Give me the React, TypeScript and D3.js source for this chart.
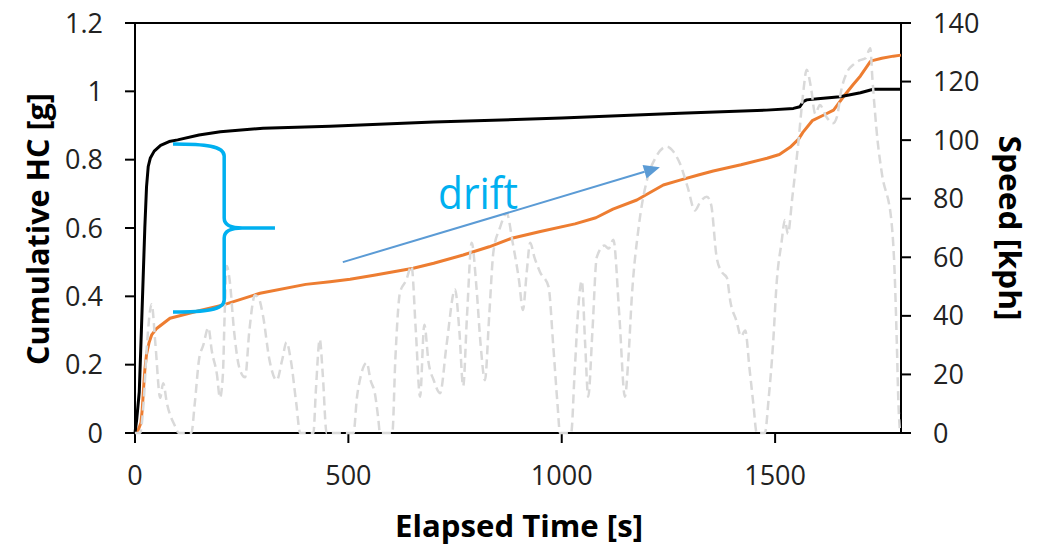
import React from "react";
import * as d3 from "d3";

// ---------- data ----------
const blackT = [0, 4, 10, 15, 19, 23, 27, 31, 36, 45, 60, 80, 100, 150, 200, 300, 457, 700, 1000, 1277, 1480, 1543, 1558, 1566, 1574, 1600, 1652, 1700, 1730, 1795];
const blackV = [0, 0.04, 0.12, 0.3, 0.45, 0.6, 0.72, 0.78, 0.805, 0.825, 0.842, 0.853, 0.858, 0.872, 0.882, 0.892, 0.898, 0.91, 0.922, 0.936, 0.945, 0.95, 0.955, 0.97, 0.975, 0.978, 0.984, 0.996, 1.006, 1.006];

const orangeT = [0, 8, 14, 17, 20, 23, 27, 33, 39, 50, 82, 150, 207, 293, 400, 457, 504, 560, 652, 700, 769, 830, 883, 950, 1031, 1080, 1120, 1176, 1238, 1277, 1320, 1355, 1420, 1481, 1510, 1535, 1555, 1565, 1587, 1613, 1637, 1660, 1683, 1700, 1723, 1728, 1750, 1777, 1795];
const orangeV = [0, 0.01, 0.03, 0.07, 0.13, 0.184, 0.23, 0.265, 0.287, 0.305, 0.336, 0.358, 0.375, 0.409, 0.435, 0.443, 0.45, 0.462, 0.482, 0.497, 0.521, 0.545, 0.57, 0.59, 0.612, 0.63, 0.655, 0.682, 0.726, 0.74, 0.755, 0.767, 0.785, 0.804, 0.815, 0.836, 0.86, 0.88, 0.914, 0.93, 0.945, 0.984, 1.02, 1.045, 1.087, 1.09, 1.097, 1.103, 1.106];

const speedT = [0, 12, 20, 28, 39, 48, 59, 66, 75, 95, 102, 132, 140, 150, 160, 172, 180, 192, 199, 206, 210, 215, 222, 232, 245, 258, 268, 281, 290, 300, 315, 332, 345, 355, 365, 378, 387, 418, 424, 433, 440, 449, 512, 520, 530, 543, 552, 562, 570, 574, 603, 610, 621, 635, 648, 658, 668, 678, 688, 700, 715, 730, 750, 760, 769, 778, 789, 800, 810, 820, 830, 840, 855, 871, 885, 900, 909, 918, 926, 936, 949, 969, 980, 990, 996, 1022, 1030, 1040, 1047, 1055, 1062, 1072, 1082, 1100, 1110, 1121, 1135, 1148, 1156, 1164, 1180, 1199, 1220, 1246, 1262, 1277, 1295, 1312, 1325, 1340, 1350, 1363, 1375, 1387, 1395, 1410, 1420, 1430, 1440, 1449, 1457, 1476, 1485, 1495, 1504, 1515, 1523, 1530, 1540, 1555, 1565, 1574, 1584, 1594, 1605, 1620, 1636, 1645, 1655, 1668, 1685, 1699, 1712, 1723, 1728, 1740, 1750, 1773, 1780, 1785, 1789, 1793];
const speedV = [0, 0, 10, 30, 44, 30, 12, 17, 10, 2, 0, 0, 10, 25, 30, 36, 28, 20, 12, 20, 40, 57, 52, 35, 22, 19, 35, 47, 46, 40, 25, 18, 25, 31, 25, 10, 0, 0, 15, 32, 20, 0, 0, 12, 20, 24, 18, 13.6, 5, 0, 0, 25, 48, 52, 57, 35, 12.4, 37, 24, 18, 13.6, 30, 49, 35, 16, 40, 65, 50, 30, 18, 40, 62, 70, 75, 65, 52, 42, 55, 65, 60, 55, 50, 30, 10, 0, 0, 20, 45, 52, 30, 12.4, 35, 60, 64, 63, 66, 40, 12.4, 25, 46, 70, 86, 94, 97.8, 96, 92, 84, 76, 79, 80.7, 78, 60, 55, 53, 45, 38, 33, 35, 22, 10, 0, 0, 12, 30, 52, 65, 72.7, 68, 80, 100, 115, 124, 118, 109, 112, 108, 105.8, 108, 117, 123, 126, 127.3, 128, 131.4, 121, 100, 88.8, 71.7, 55, 31.8, 10, 0];

const xTicks = [0, 500, 1000, 1500];
const yLeftTicks = [0, 0.2, 0.4, 0.6, 0.8, 1, 1.2];
const yRightTicks = [0, 20, 40, 60, 80, 100, 120, 140];

const xTitle = "Elapsed Time [s]";
const yLeftTitle = "Cumulative HC [g]";
const yRightTitle = "Speed [kph]";
const noteText = "drift";

// annotation anchors in data units [time, HC]
const arrowFrom = [487, 0.5];
const arrowTo = [1230, 0.778];
const braceEnds = [89, 0.846, 0.354]; // x-start, top, bottom
const braceSpine = 209;
const braceTip = [328, 0.6];
const noteAt = [710, 0.656];

const FONT = "'Open Sans', 'Liberation Sans', sans-serif";

export default function App() {
  const W = 1038, H = 546;
  const x = d3.scaleLinear().domain([0, 1795]).range([135, 901]);
  const yL = d3.scaleLinear().domain([0, 1.2]).range([433, 23]);
  const yR = d3.scaleLinear().domain([0, 140]).range([433, 23]);

  const lineL = d3.line<[number, number]>().x(d => x(d[0])).y(d => yL(d[1]));
  const lineR = d3.line<[number, number]>().x(d => x(d[0])).y(d => yR(d[1])).curve(d3.curveMonotoneX);

  const blackData = blackT.map((t, i) => [t, blackV[i]] as [number, number]);
  const orangeData = orangeT.map((t, i) => [t, orangeV[i]] as [number, number]);
  const speedData = speedT.map((t, i) => [t, speedV[i]] as [number, number]);

  const [x0, x1] = x.range();
  const [yb, yt] = yL.range();

  // arrow
  const ax1 = x(arrowFrom[0]), ay1 = yL(arrowFrom[1]);
  const ax2 = x(arrowTo[0]), ay2 = yL(arrowTo[1]);
  const ang = Math.atan2(ay2 - ay1, ax2 - ax1);
  const hl = 16, hw = 7;
  const bx = ax2 - hl * Math.cos(ang), by = ay2 - hl * Math.sin(ang);
  const px = -Math.sin(ang), py = Math.cos(ang);
  const head = `M${ax2},${ay2}L${bx + hw * px},${by + hw * py}L${bx - hw * px},${by - hw * py}Z`;

  // brace
  const bx0 = x(braceEnds[0]);
  const byT = yL(braceEnds[1]);
  const byB = yL(braceEnds[2]);
  const sx = x(braceSpine);
  const tx = x(braceTip[0]);
  const ty = yL(braceTip[1]);
  const brace =
    `M${bx0},${byT} C${bx0 + 32},${byT} ${sx},${byT + 2} ${sx},${byT + 12} ` +
    `L${sx},${ty - 10} C${sx},${ty - 2} ${sx + 8},${ty} ${sx + 18},${ty} L${tx},${ty} ` +
    `M${sx + 18},${ty} C${sx + 8},${ty} ${sx},${ty + 2} ${sx},${ty + 10} ` +
    `L${sx},${byB - 12} C${sx},${byB - 2} ${bx0 + 32},${byB} ${bx0},${byB}`;

  return (
    <svg width={W} height={H} style={{ position: "absolute", left: 0, top: 0, background: "#fff" }} fontFamily={FONT}>
      {/* axes */}
      <line x1={x0 - 10} x2={x1 + 10} y1={yt} y2={yt} stroke="#000" strokeWidth={2} />
      <line x1={x0 - 10} x2={x1 + 10} y1={yb} y2={yb} stroke="#000" strokeWidth={2} />
      <line x1={x0} x2={x0} y1={yt} y2={yb + 10} stroke="#000" strokeWidth={2} />
      <line x1={x1} x2={x1} y1={yt} y2={yb} stroke="#000" strokeWidth={2} />
      {yLeftTicks.map(v => (
        <g key={"l" + v}>
          <line x1={x0 - 10} x2={x0} y1={yL(v)} y2={yL(v)} stroke="#000" strokeWidth={2} />
          <text x={103} y={yL(v) + 9.5} textAnchor="end" fontSize={27} fill="#222">{String(v)}</text>
        </g>
      ))}
      {yRightTicks.map(v => (
        <g key={"r" + v}>
          <line x1={x1} x2={x1 + 10} y1={yR(v)} y2={yR(v)} stroke="#000" strokeWidth={2} />
          <text x={933} y={yR(v) + 9.5} textAnchor="start" fontSize={27} fill="#222">{String(v)}</text>
        </g>
      ))}
      {xTicks.map(v => (
        <g key={"x" + v}>
          <line x1={x(v)} x2={x(v)} y1={yb} y2={yb + 10} stroke="#000" strokeWidth={2} />
          <text x={x(v)} y={485} textAnchor="middle" fontSize={27} fill="#222">{String(v)}</text>
        </g>
      ))}
      <text x={519} y={537} textAnchor="middle" fontSize={30} fontWeight="bold" fill="#000" textLength={248} lengthAdjust="spacingAndGlyphs">{xTitle}</text>
      <text transform={`translate(49,229) rotate(-90)`} textAnchor="middle" fontSize={30} fontWeight="bold" fill="#000" textLength={272} lengthAdjust="spacingAndGlyphs">{yLeftTitle}</text>
      <text transform={`translate(999,228) rotate(90)`} textAnchor="middle" fontSize={30} fontWeight="bold" fill="#000" textLength={185} lengthAdjust="spacingAndGlyphs">{yRightTitle}</text>

      {/* series */}
      <path d={lineL(orangeData) || ""} fill="none" stroke="#ed7d31" strokeWidth={3} strokeLinejoin="round" />
      <path d={lineL(blackData) || ""} fill="none" stroke="#000" strokeWidth={3} strokeLinejoin="round" />
      <path d={lineR(speedData) || ""} fill="none" stroke="#d9d9d9" strokeWidth={2.5} strokeDasharray="9,5" />

      {/* annotations */}
      <path d={brace} fill="none" stroke="#00b0f0" strokeWidth={3.5} />
      <line x1={ax1} y1={ay1} x2={bx} y2={by} stroke="#5b9bd5" strokeWidth={2} />
      <path d={head} fill="#5b9bd5" />
      <text x={x(noteAt[0])} y={yL(noteAt[1])} fontSize={43} fill="#00b0f0" textLength={80} lengthAdjust="spacingAndGlyphs">{noteText}</text>
    </svg>
  );
}
